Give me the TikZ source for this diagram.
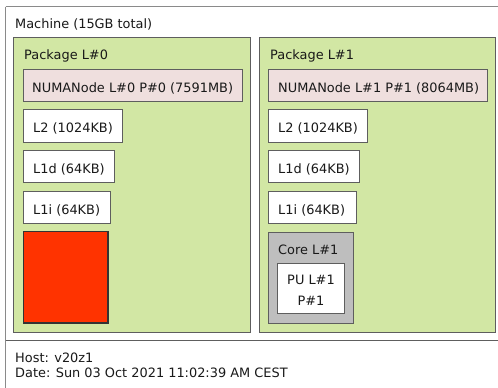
\documentclass[tikz,border=0pt]{standalone}
\usepackage{fontspec}
\setmainfont{DejaVu Sans}
\definecolor{pkgfill}{HTML}{D2E7A4}
\definecolor{numafill}{HTML}{EFDFDE}
\definecolor{corefill}{HTML}{BEBEBE}
\definecolor{pufill}{HTML}{FF3300}
\definecolor{edge}{HTML}{5E5E5E}
\definecolor{outer}{HTML}{8A8A8A}
\tikzset{
  topo/.style={draw=edge, line width=1.6pt},
  label/.style={anchor=base west, inner sep=0pt, font=\fontsize{12.9}{14}\selectfont, text=black!90},
}
\begin{document}
\begin{tikzpicture}[x=1pt, y=-1pt]
\useasboundingbox (0,0) rectangle (498,388);
\fill[white] (0,0) rectangle (498,388);
% machine and legend frame
\draw[draw=outer, line width=1.2pt] (5.5,6.5) -- (499,6.5);
\draw[draw=outer, line width=1.2pt] (5.5,6.5) -- (5.5,390);
\draw[draw=edge, line width=1.8pt] (5.5,340.5) -- (499,340.5);
\node[label] (machine) at (15,28) {Machine (15GB total)};
% package 0
\draw[topo, fill=pkgfill] (13.5,37.5) rectangle (250.5,332.5);
\node[label] (pkg0) at (24,59) {Package L\#0};
\draw[topo, fill=numafill] (23.5,69.5) rectangle (242.5,101.5);
\node[label] (numa0) at (32,92) {NUMANode L\#0 P\#0 (7591MB)};
\draw[topo, fill=white] (23.5,109.5) rectangle (122.5,142.5);
\node[label] (l2a) at (33,132.5) {L2 (1024KB)};
\draw[topo, fill=white] (23.5,150.5) rectangle (114.5,182.5);
\node[label] (l1da) at (33,173) {L1d (64KB)};
\draw[topo, fill=white] (23.5,191.5) rectangle (110.5,223.5);
\node[label] (l1ia) at (33,214) {L1i (64KB)};
\draw[draw=black!80, line width=1.2pt, fill=pufill] (23.5,231.5) rectangle (108,323);
% package 1
\draw[topo, fill=pkgfill] (259.5,37.5) rectangle (495.5,332.5);
\node[label] (pkg1) at (270,59) {Package L\#1};
\draw[topo, fill=numafill] (268.5,69.5) rectangle (487.5,101.5);
\node[label] (numa1) at (278,92) {NUMANode L\#1 P\#1 (8064MB)};
\draw[topo, fill=white] (268.5,109.5) rectangle (367.5,142.5);
\node[label] (l2b) at (278,132.5) {L2 (1024KB)};
\draw[topo, fill=white] (268.5,150.5) rectangle (359.5,182.5);
\node[label] (l1db) at (278,173) {L1d (64KB)};
\draw[topo, fill=white] (268.5,191.5) rectangle (356.5,223.5);
\node[label] (l1ib) at (278,214) {L1i (64KB)};
\draw[topo, fill=corefill] (268.5,232.5) rectangle (353.5,323.5);
\node[label] (core1) at (278,254) {Core L\#1};
\draw[topo, fill=white] (277.5,263.5) rectangle (344.5,313.5);
\node[label, anchor=base] (pu1a) at (311,284) {PU L\#1};
\node[label, anchor=base] (pu1b) at (311,305) {P\#1};
% legend
\node[label] (host) at (15,362.5) {Host: v20z1};
\node[label] (date) at (15,377.5) {Date: Sun 03 Oct 2021 11:02:39 AM CEST};
\end{tikzpicture}
\end{document}
